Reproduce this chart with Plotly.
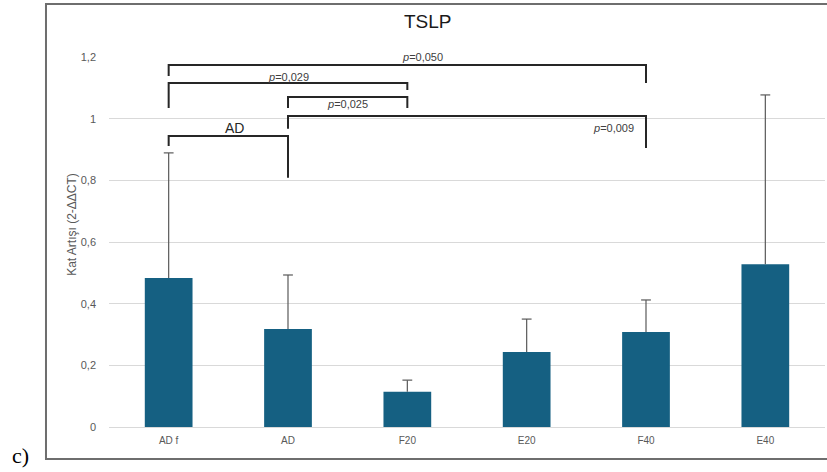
import plotly.graph_objects as go

# Group means and upper error (SD) for TSLP fold change
groups = ["AD f", "AD", "F20", "E20", "F40", "E40"]
means = [0.483, 0.318, 0.114, 0.243, 0.308, 0.528]
err_up = [0.406, 0.175, 0.038, 0.107, 0.104, 0.549]

# Pairwise comparison brackets: group indices, bracket height, leg ends, label
cmp_left = [0, 0, 0, 1, 1]
cmp_right = [1, 2, 4, 2, 4]
cmp_top = [0.944, 1.116, 1.174, 1.070, 1.009]
cmp_left_end = [0.911, 1.035, 1.138, 1.035, 0.967]
cmp_right_end = [0.808, 1.093, 1.116, 1.035, 0.905]
cmp_text = ["AD", "<i>p</i>=0,029", "<i>p</i>=0,050", "<i>p</i>=0,025", "<i>p</i>=0,009"]
cmp_text_x = [0.55, 1.0, 2.13, 1.5, 3.92]
cmp_text_y = [0.970, 1.135, 1.200, 1.048, 0.970]
cmp_text_anchor = ["center", "center", "center", "center", "right"]

BAR = "#156082"
INK = "#262626"
GREY = "#595959"
FONT = "Liberation Sans"

fig = go.Figure(
    go.Bar(
        x=groups,
        y=means,
        marker=dict(color=BAR, line=dict(width=0)),
        hoverinfo="skip",
    )
)

# One-sided (plus) error whiskers with a cap only at the top end
wx, wy = [], []
for g, m, e in zip(groups, means, err_up):
    wx += [g, g, None]
    wy += [m, m + e, None]
fig.add_trace(go.Scatter(
    x=wx, y=wy, mode="lines",
    line=dict(color=GREY, width=1.2),
    hoverinfo="skip",
))
fig.add_trace(go.Scatter(
    x=groups, y=[m + e for m, e in zip(means, err_up)], mode="markers",
    marker=dict(symbol="line-ew", size=7, line=dict(color=GREY, width=1.2)),
    hoverinfo="skip",
))

shapes = []
annotations = []
for i in range(len(cmp_left)):
    xl, xr = cmp_left[i], cmp_right[i]
    top = cmp_top[i]
    path = f"M {xl},{cmp_left_end[i]} L {xl},{top} L {xr},{top} L {xr},{cmp_right_end[i]}"
    shapes.append(dict(type="path", xref="x", yref="y", path=path,
                       line=dict(color=INK, width=2)))
    big = cmp_text[i] == "AD"
    annotations.append(dict(
        x=cmp_text_x[i], y=cmp_text_y[i], xref="x", yref="y",
        text=cmp_text[i], showarrow=False,
        xanchor=cmp_text_anchor[i], yanchor="middle",
        font=dict(family=FONT, size=14 if big else 11, color=INK if big else "#404040"),
    ))

# Outer frame of the panel
shapes.append(dict(type="rect", xref="paper", yref="paper",
                   x0=-0.088, x1=1.02, y0=-0.0865, y1=1.143,
                   line=dict(color="#6e6e6e", width=2), layer="below"))

annotations += [
    dict(text="TSLP", xref="paper", yref="paper", x=0.4455, y=1.0946,
         showarrow=False, xanchor="center", yanchor="middle",
         font=dict(family=FONT, size=19, color="#1a1a1a")),
    dict(text="Kat Artışı (2-ΔΔCT)", xref="paper", yref="paper", x=-0.0517, y=0.549,
         showarrow=False, textangle=-90, xanchor="center", yanchor="middle",
         font=dict(family=FONT, size=12, color=GREY)),
    dict(text="c)", xref="paper", yref="paper", x=-0.109, y=-0.076,
         showarrow=False, xanchor="right", yanchor="middle",
         font=dict(family="Liberation Serif", size=22, color="black")),
]

fig.update_layout(
    width=827,
    height=472,
    margin=dict(l=109, r=2, t=57, b=45),
    paper_bgcolor="white",
    plot_bgcolor="white",
    separators=",.",
    bargap=0.6,
    showlegend=False,
    shapes=shapes,
    annotations=annotations,
    xaxis=dict(
        type="category",
        categoryorder="array",
        categoryarray=groups,
        showgrid=False,
        showline=True,
        linecolor="#d9d9d9",
        linewidth=1,
        ticks="",
        tickfont=dict(family=FONT, size=10, color=GREY),
        ticklabelstandoff=4,
    ),
    yaxis=dict(
        range=[0, 1.2],
        tickvals=[0, 0.2, 0.4, 0.6, 0.8, 1.0, 1.2],
        showgrid=True,
        gridcolor="#d9d9d9",
        gridwidth=1,
        zeroline=False,
        showline=False,
        ticks="",
        tickfont=dict(family=FONT, size=11, color=GREY),
        ticklabelstandoff=12,
    ),
)

fig.write_html("out.html")
